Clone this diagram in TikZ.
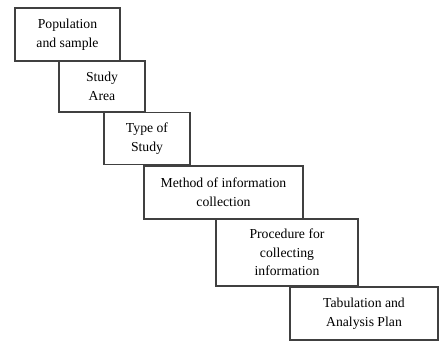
\documentclass[tikz,border=0pt]{standalone}
\usepackage{fontspec}
\setmainfont{Liberation Serif}
\usepackage{tikz}
\usetikzlibrary{positioning}
\tikzset{
	basic/.style = {draw=black!75, line width=0.6pt, rectangle, inner sep=0pt},
	stage/.style = {basic, align=center, font=\fontsize{7.8}{10.6}\selectfont}
}

\begin{document}
\begin{tikzpicture}[x=0.02cm, y=-0.02cm]
				\useasboundingbox (0,0) rectangle (441,341);
				\node[stage, minimum width=105*0.02cm, minimum height=53*0.02cm] (pop) at (67.5,34.5) {Population\\and sample};
				\node[stage, minimum width=86*0.02cm, minimum height=51*0.02cm] (area) at (102,86.5) {Study\\Area};
				\node[stage, minimum width=86*0.02cm, minimum height=52*0.02cm] (type) at (147,138.5) {Type of\\Study};
				\node[stage, minimum width=159*0.02cm, minimum height=53*0.02cm] (method) at (223.5,192.5) {Method of information\\collection};
				\node[stage, minimum width=142*0.02cm, minimum height=67*0.02cm] (proc) at (287,252.5) {Procedure for\\collecting\\information};
				\node[stage, minimum width=148*0.02cm, minimum height=53*0.02cm] (plan) at (364,313.5) {Tabulation and\\Analysis Plan};
			\end{tikzpicture}
\end{document}
